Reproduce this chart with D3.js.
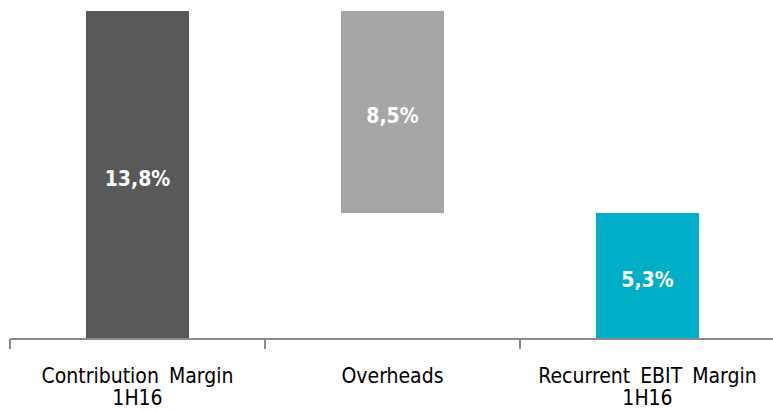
<!DOCTYPE html>
<html><head><meta charset="utf-8">
<script src="https://cdn.jsdelivr.net/npm/d3@7"></script>
<style>html,body{margin:0;padding:0;background:#fff;}</style>
</head><body><svg id="c" width="773" height="411"></svg>
<script>
const categories = ["Contribution Margin|1H16", "Overheads", "Recurrent EBIT Margin|1H16"];
const starts = [0, 5.3, 0];
const ends = [13.8, 13.8, 5.3];
const valueLabels = ["13,8%", "8,5%", "5,3%"];
const colors = ["#595959", "#a6a6a6", "#00aec7"];

const svg = d3.select("#c");
const axisY = 339;
const x = d3.scaleBand().domain(categories).range([10, 775]).paddingInner(0.596).paddingOuter(0.298);
const y = d3.scaleLinear().domain([0, 13.8]).range([axisY, 11]);

svg.selectAll("rect.bar").data(categories).join("rect")
  .attr("class", "bar")
  .attr("x", d => x(d))
  .attr("width", x.bandwidth())
  .attr("y", (d, i) => y(Math.max(starts[i], ends[i])))
  .attr("height", (d, i) => Math.abs(y(starts[i]) - y(ends[i])))
  .attr("fill", (d, i) => colors[i]);

const font = "'DejaVu Sans Condensed', sans-serif";

svg.selectAll("text.val").data(categories).join("text")
  .attr("class", "val")
  .attr("x", d => x(d) + x.bandwidth() / 2)
  .attr("y", (d, i) => (y(starts[i]) + y(ends[i])) / 2 + 10.5)
  .attr("text-anchor", "middle")
  .attr("font-family", font)
  .attr("font-weight", "bold")
  .attr("font-size", 21)
  .attr("fill", "#fff")
  .text((d, i) => valueLabels[i]);

// axis
const step = x.step();
const x0 = x.range()[0];
svg.append("line").attr("x1", x0).attr("x2", 773).attr("y1", axisY).attr("y2", axisY)
  .attr("stroke", "#8c8c8c").attr("stroke-width", 2);
d3.range(categories.length + 1).forEach(i => {
  svg.append("line").attr("x1", x0 + i * step).attr("x2", x0 + i * step)
    .attr("y1", axisY).attr("y2", axisY + 10)
    .attr("stroke", "#8c8c8c").attr("stroke-width", 2);
});

svg.selectAll("text.cat").data(categories).join("text")
  .attr("class", "cat")
  .attr("text-anchor", "middle")
  .attr("font-family", font)
  .attr("font-size", 21)
  .attr("word-spacing", 4)
  .attr("fill", "#000")
  .each(function(d) {
    const t = d3.select(this);
    const cx = x(d) + x.bandwidth() / 2;
    d.split("|").forEach((line, j) => {
      t.append("tspan").attr("x", cx).attr("y", 383 + j * 22).text(line);
    });
  });
</script></body></html>
